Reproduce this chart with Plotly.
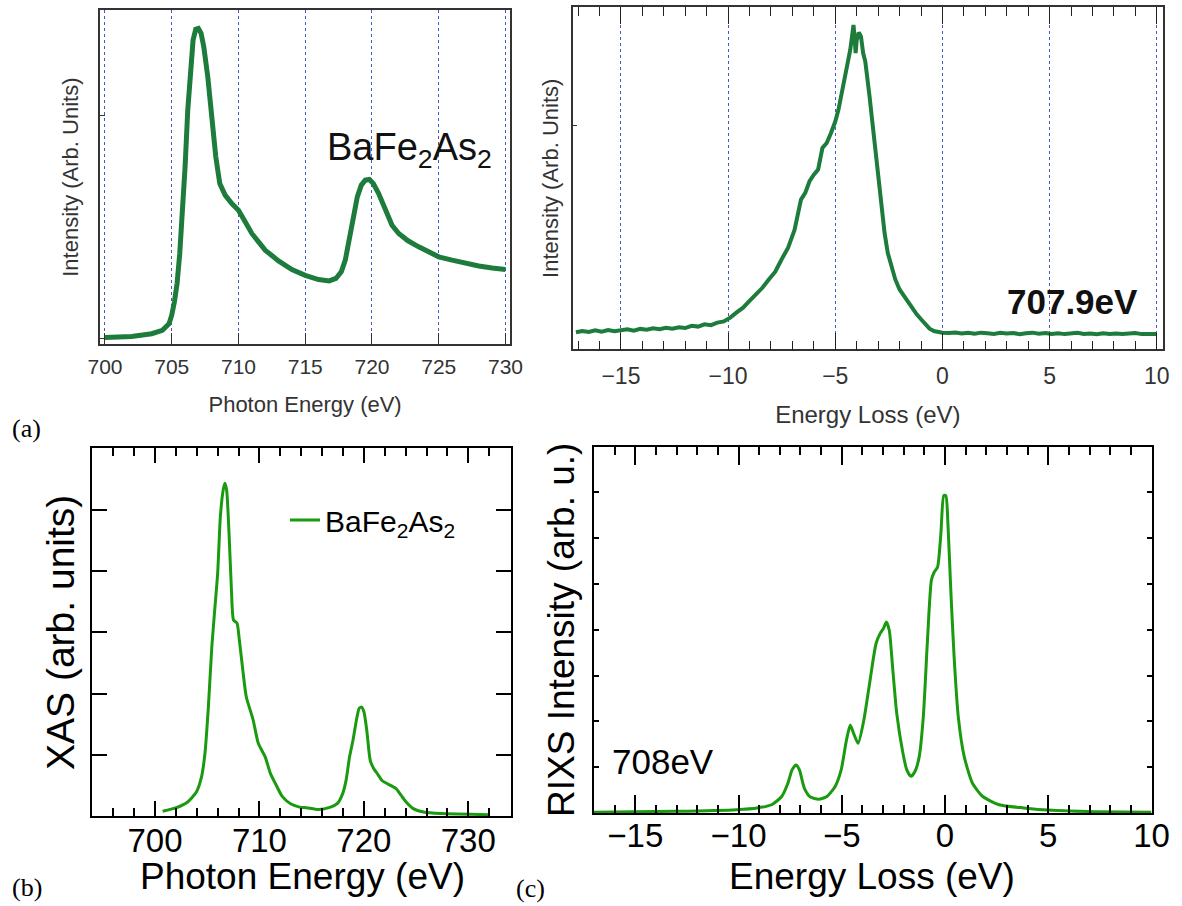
import plotly.graph_objects as go

# ---------------- data ----------------
# (a) left: experimental XAS
xas_exp_e = [700.0, 702.0, 703.5, 704.3, 704.8, 705.0, 705.2, 705.4, 705.6, 705.8, 706.0, 706.2,
             706.4, 706.6, 706.8, 707.0, 707.2, 707.4, 707.7, 708.0, 708.3, 708.6, 709.0, 709.5,
             710.0, 710.5, 711.0, 712.0, 713.0, 714.0, 715.0, 716.0, 716.8, 717.3, 717.7, 718.0,
             718.3, 718.6, 718.9, 719.2, 719.5, 719.8, 720.1, 720.5, 721.0, 721.5, 722.0, 722.7,
             723.5, 724.3, 725.0, 726.0, 727.0, 728.0, 729.0, 730.0]
xas_exp_i = [0.005, 0.010, 0.022, 0.037, 0.067, 0.105, 0.165, 0.247, 0.382, 0.561, 0.771, 1.025,
             1.220, 1.340, 1.388, 1.392, 1.370, 1.310, 1.175, 0.996, 0.816, 0.696, 0.644, 0.606,
             0.576, 0.524, 0.472, 0.397, 0.349, 0.310, 0.284, 0.265, 0.259, 0.270, 0.300, 0.352,
             0.442, 0.546, 0.636, 0.689, 0.711, 0.714, 0.696, 0.651, 0.576, 0.509, 0.472, 0.439,
             0.412, 0.385, 0.367, 0.352, 0.337, 0.326, 0.317, 0.310]

# (a) right: experimental RIXS at 707.9 eV
rixs_exp_e = [-17.1, -16.8, -16.5, -16.2, -15.9, -15.6, -15.3, -15.0, -14.7, -14.4, -14.1, -13.8,
              -13.5, -13.2, -12.9, -12.6, -12.3, -12.0, -11.7, -11.4, -11.1, -10.8, -10.5, -10.2,
              -9.9, -9.6, -9.3, -9.0, -8.7, -8.4, -8.1, -7.8, -7.5, -7.2, -6.9, -6.75, -6.6, -6.4,
              -6.2, -6.0, -5.8, -5.6, -5.4, -5.2, -5.0, -4.85, -4.7, -4.55, -4.4, -4.3, -4.2, -4.15,
              -4.1, -4.05, -4.0, -3.9, -3.8, -3.7, -3.6, -3.5, -3.4, -3.3, -3.15, -3.0, -2.85, -2.7,
              -2.55, -2.4, -2.2, -2.0, -1.8, -1.6, -1.4, -1.2, -1.0, -0.8, -0.6, -0.4, -0.2, 0.0,
              0.3, 0.6, 0.9, 1.2, 1.5, 1.8, 2.1, 2.4, 2.7, 3.0, 3.3, 3.6, 3.9, 4.2, 4.5, 4.8, 5.1,
              5.4, 5.7, 6.0, 6.3, 6.6, 6.9, 7.2, 7.5, 7.8, 8.1, 8.4, 8.7, 9.0, 9.3, 9.6, 10.0]
rixs_exp_i = [0.010, 0.016, 0.011, 0.019, 0.013, 0.021, 0.015, 0.019, 0.024, 0.017, 0.026, 0.022,
              0.029, 0.024, 0.031, 0.027, 0.034, 0.030, 0.041, 0.037, 0.048, 0.044, 0.056, 0.062,
              0.080, 0.105, 0.128, 0.160, 0.190, 0.223, 0.263, 0.300, 0.360, 0.415, 0.500, 0.566,
              0.646, 0.678, 0.734, 0.765, 0.790, 0.893, 0.917, 0.965, 1.020, 1.077, 1.156, 1.220,
              1.324, 1.364, 1.443, 1.483, 1.427, 1.348, 1.410, 1.447, 1.427, 1.348, 1.308, 1.236,
              1.140, 1.045, 0.900, 0.758, 0.614, 0.486, 0.390, 0.327, 0.263, 0.215, 0.183, 0.152,
              0.120, 0.096, 0.072, 0.048, 0.027, 0.016, 0.011, 0.008, 0.006, 0.009, 0.004, 0.007,
              0.003, 0.008, 0.005, 0.002, 0.007, 0.004, 0.006, 0.001, 0.005, 0.008, 0.003, 0.006,
              0.002, 0.005, 0.001, 0.004, 0.007, 0.002, 0.004, 0.000, 0.005, 0.002, 0.004, 0.001,
              0.003, 0.006, 0.001, 0.003, 0.002]

# (b) calculated XAS
xas_calc_e = [700.73, 701.98, 703.13, 703.96, 704.45, 704.78, 705.11, 705.44, 705.77, 706.0,
              706.26, 706.53, 706.69, 706.86, 707.09, 707.32, 707.52, 707.85, 708.08, 708.41,
              708.74, 709.40, 709.89, 710.55, 711.05, 711.54, 712.20, 713.02, 713.85, 714.5,
              715.66, 716.8, 717.47, 717.97, 718.30, 718.63, 718.96, 719.29, 719.55, 719.78,
              720.01, 720.28, 720.61, 720.94, 721.27, 721.76, 722.26, 723.08, 723.57, 724.07,
              724.73, 725.72, 727.37, 731.98]
xas_calc_i = [0.082, 0.136, 0.234, 0.397, 0.64, 1.02, 1.78, 2.76, 3.47, 3.96,
              4.89, 5.32, 5.43, 5.32, 4.61, 3.69, 3.20, 3.15, 2.87, 2.38,
              1.95, 1.57, 1.19, 0.97, 0.70, 0.53, 0.32, 0.20, 0.15, 0.14,
              0.11, 0.15, 0.21, 0.37, 0.59, 0.97, 1.24, 1.57, 1.76, 1.78,
              1.70, 1.40, 0.91, 0.78, 0.70, 0.58, 0.53, 0.45, 0.34, 0.23,
              0.125, 0.07, 0.044, 0.027]

# (c) calculated RIXS at 708 eV
rixs_calc_e = [-17.0, -13.07, -10.09, -9.10, -8.40, -7.91, -7.61, -7.41, -7.21, -7.05, -6.81,
               -6.52, -6.12, -5.72, -5.32, -5.03, -4.77, -4.59, -4.43, -4.21, -3.93, -3.63,
               -3.34, -3.14, -2.98, -2.84, -2.70, -2.54, -2.34, -2.04, -1.85, -1.65, -1.45,
               -1.25, -1.05, -0.85, -0.66, -0.52, -0.36, -0.20, -0.06, 0.04, 0.14, 0.28, 0.44,
               0.64, 0.93, 1.33, 1.83, 2.62, 3.81, 5.2, 7.19, 10.0]
rixs_calc_i = [0.015, 0.036, 0.073, 0.11, 0.18, 0.36, 0.65, 0.94, 1.05, 0.94, 0.54,
               0.35, 0.30, 0.36, 0.58, 0.94, 1.60, 1.92, 1.74, 1.52, 2.03, 2.90,
               3.70, 3.92, 4.03, 4.17, 3.99, 3.19, 2.18, 1.31, 0.94, 0.80, 0.91,
               1.23, 2.11, 3.77, 5.08, 5.26, 5.37, 6.10, 6.93, 6.93, 6.32, 4.86, 3.41,
               2.11, 1.23, 0.65, 0.36, 0.18, 0.11, 0.058, 0.029, 0.015]

xas_exp_ticks = [700, 705, 710, 715, 720, 725, 730]
rixs_ticks = [-15, -10, -5, 0, 5, 10]
xas_calc_ticks = [700, 710, 720, 730]

# ---------------- layout helpers ----------------
W, H = 1182, 906


def dx(a, b):
    return [max(0.0, a / W), min(1.0, b / W)]


def dy(top, bottom):
    return [max(0.0, 1 - bottom / H), min(1.0, 1 - top / H)]


EXP_GREEN = "#1d7c3c"
CALC_GREEN = "#1a9a0e"
GRID_BLUE = "#4456cc"
SANS = "Liberation Sans, Arial, sans-serif"
SERIF = "Liberation Serif, Times New Roman, serif"

fig = go.Figure()

fig.add_trace(go.Scatter(x=xas_exp_e, y=xas_exp_i, mode="lines", xaxis="x", yaxis="y",
                         line=dict(color=EXP_GREEN, width=5), showlegend=False))
fig.add_trace(go.Scatter(x=rixs_exp_e, y=rixs_exp_i, mode="lines", xaxis="x2", yaxis="y2",
                         line=dict(color=EXP_GREEN, width=4), showlegend=False))
fig.add_trace(go.Scatter(x=xas_calc_e, y=xas_calc_i, mode="lines", xaxis="x3", yaxis="y3",
                         line=dict(color=CALC_GREEN, width=3, shape="spline", smoothing=0.6),
                         name="BaFe<sub>2</sub>As<sub>2</sub>", showlegend=True))
fig.add_trace(go.Scatter(x=rixs_calc_e, y=rixs_calc_i, mode="lines", xaxis="x4", yaxis="y4",
                         line=dict(color=CALC_GREEN, width=3, shape="spline", smoothing=0.6),
                         showlegend=False))

top_tick_font = dict(family=SANS, size=21, color="#333333")
bot_tick_font = dict(family=SANS, size=33, color="#000000")

fig.update_layout(
    width=W, height=H,
    margin=dict(l=0, r=0, t=0, b=0, autoexpand=False),
    paper_bgcolor="white", plot_bgcolor="white",
    # ---- (a) left ----
    xaxis=dict(domain=dx(99.9, 510.3), anchor="y", range=[699.62, 730.36],
               tickmode="array", tickvals=xas_exp_ticks, ticks="inside", ticklen=12,
               tickcolor="#333333", showgrid=True, griddash="dot", gridcolor=GRID_BLUE,
               gridwidth=1, showline=True, linecolor="#333333", linewidth=1.5, mirror=True,
               zeroline=False, tickfont=top_tick_font, ticklabelstandoff=3, automargin=False,
               title=dict(text="Photon Energy (eV)", font=dict(family=SANS, size=22, color="#333333"),
                          standoff=19)),
    yaxis=dict(domain=dy(10, 344.3), anchor="x", range=[-0.0254, 1.4746],
               tickmode="array", tickvals=[0, 1], showticklabels=False, ticks="inside",
               ticklen=5, tickcolor="#333333", showgrid=False, showline=True,
               linecolor="#333333", linewidth=1.5, mirror=True, zeroline=False, automargin=False,
               title=dict(text="Intensity (Arb. Units)", font=dict(family=SANS, size=22, color="#333333"),
                          standoff=13)),
    # ---- (a) right ----
    xaxis2=dict(domain=dx(572.7, 1163), anchor="y2", range=[-17.25, 10.29],
                tickmode="array", tickvals=rixs_ticks, ticks="inside", ticklen=17,
                tickcolor="#222222",
                minor=dict(dtick=1, tick0=0, ticks="inside", ticklen=9, tickcolor="#222222",
                           showgrid=False),
                showgrid=True, griddash="dot", gridcolor=GRID_BLUE, gridwidth=1,
                showline=True, linecolor="#333333", linewidth=1.5, mirror="ticks",
                zeroline=False, tickfont=dict(family=SANS, size=23, color="#333333"),
                ticklabelstandoff=5, automargin=False,
                title=dict(text="Energy Loss (eV)", font=dict(family=SANS, size=24, color="#333333"),
                           standoff=19)),
    yaxis2=dict(domain=dy(7.3, 349.3), anchor="x2", range=[-0.0718, 1.5675],
                tickmode="array", tickvals=[1], showticklabels=False, ticks="inside",
                ticklen=5, tickcolor="#333333", showgrid=False, showline=True,
                linecolor="#333333", linewidth=1.5, mirror=True, zeroline=False, automargin=False,
                title=dict(text="Intensity (Arb. Units)", font=dict(family=SANS, size=22, color="#333333"),
                           standoff=6)),
    # ---- (b) ----
    xaxis3=dict(domain=dx(91.5, 510.7), anchor="y3", range=[693.92, 734.06],
                tickmode="array", tickvals=xas_calc_ticks, ticks="inside", ticklen=15,
                tickcolor="black", tickwidth=2,
                minor=dict(dtick=2, tick0=700, ticks="inside", ticklen=8, tickcolor="black",
                           tickwidth=2, showgrid=False),
                showgrid=False, showline=True, linecolor="black", linewidth=2, mirror="ticks",
                zeroline=False, tickfont=bot_tick_font, ticklabelstandoff=-6, automargin=False),
    yaxis3=dict(domain=dy(448.3, 816.3), anchor="x3", range=[0, 6],
                tickmode="array", tickvals=[1, 2, 3, 4, 5], showticklabels=False,
                ticks="inside", ticklen=15, tickcolor="black", tickwidth=2, showgrid=False,
                showline=True, linecolor="black", linewidth=2, mirror="ticks", zeroline=False,
                automargin=False,
                title=dict(text="XAS (arb. units)", font=dict(family=SANS, size=39, color="black"),
                           standoff=3)),
    # ---- (c) ----
    xaxis4=dict(domain=dx(594, 1151.5), anchor="y4", range=[-17, 10],
                tickmode="array", tickvals=rixs_ticks, ticks="inside", ticklen=18,
                tickcolor="black", tickwidth=2,
                minor=dict(dtick=1, tick0=0, ticks="inside", ticklen=8, tickcolor="black",
                           tickwidth=2, showgrid=False),
                showgrid=False, showline=True, linecolor="black", linewidth=2, mirror="ticks",
                zeroline=False, tickfont=bot_tick_font, ticklabelstandoff=-8, automargin=False),
    yaxis4=dict(domain=dy(446.5, 813), anchor="x4", range=[0, 8],
                tickmode="linear", tick0=0, dtick=1, showticklabels=False,
                ticks="inside", ticklen=5, tickcolor="black", tickwidth=1.5, showgrid=False,
                showline=True, linecolor="black", linewidth=2, mirror="ticks", zeroline=False,
                automargin=False,
                title=dict(text="RIXS Intensity (arb. u.)", font=dict(family=SANS, size=37, color="black"),
                           standoff=6)),
    legend=dict(x=285 / W, y=1 - 494 / H, xanchor="left", yanchor="top",
                bgcolor="rgba(0,0,0,0)", borderwidth=0,
                font=dict(family=SANS, size=30, color="black")),
    annotations=[
        dict(text="Photon Energy (eV)", x=302 / W, y=1 - 876 / H, xref="paper", yref="paper",
             showarrow=False, xanchor="center", yanchor="middle",
             font=dict(family=SANS, size=37, color="black")),
        dict(text="Energy Loss (eV)", x=872 / W, y=1 - 876 / H, xref="paper", yref="paper",
             showarrow=False, xanchor="center", yanchor="middle",
             font=dict(family=SANS, size=37, color="black")),
        dict(text="BaFe<sub>2</sub>As<sub>2</sub>", x=409 / W, y=1 - 150 / H, xref="paper",
             yref="paper", showarrow=False, xanchor="center", yanchor="middle",
             font=dict(family=SANS, size=38, color="#111111")),
        dict(text="<b>707.9eV</b>", x=1072 / W, y=1 - 301 / H, xref="paper", yref="paper",
             showarrow=False, xanchor="center", yanchor="middle",
             font=dict(family=SANS, size=35, color="#111111")),
        dict(text="708eV", x=663 / W, y=1 - 761 / H, xref="paper", yref="paper",
             showarrow=False, xanchor="center", yanchor="middle",
             font=dict(family=SANS, size=35, color="black")),
        dict(text="(a)", x=26 / W, y=1 - 428 / H, xref="paper", yref="paper",
             showarrow=False, xanchor="center", yanchor="middle",
             font=dict(family=SERIF, size=26, color="black")),
        dict(text="(b)", x=27 / W, y=1 - 887 / H, xref="paper", yref="paper",
             showarrow=False, xanchor="center", yanchor="middle",
             font=dict(family=SERIF, size=26, color="black")),
        dict(text="(c)", x=530 / W, y=1 - 888 / H, xref="paper", yref="paper",
             showarrow=False, xanchor="center", yanchor="middle",
             font=dict(family=SERIF, size=26, color="black")),
    ],
)

fig.write_html("out.html", config={"displayModeBar": False},
               post_script="document.body.style.margin='0px';")
